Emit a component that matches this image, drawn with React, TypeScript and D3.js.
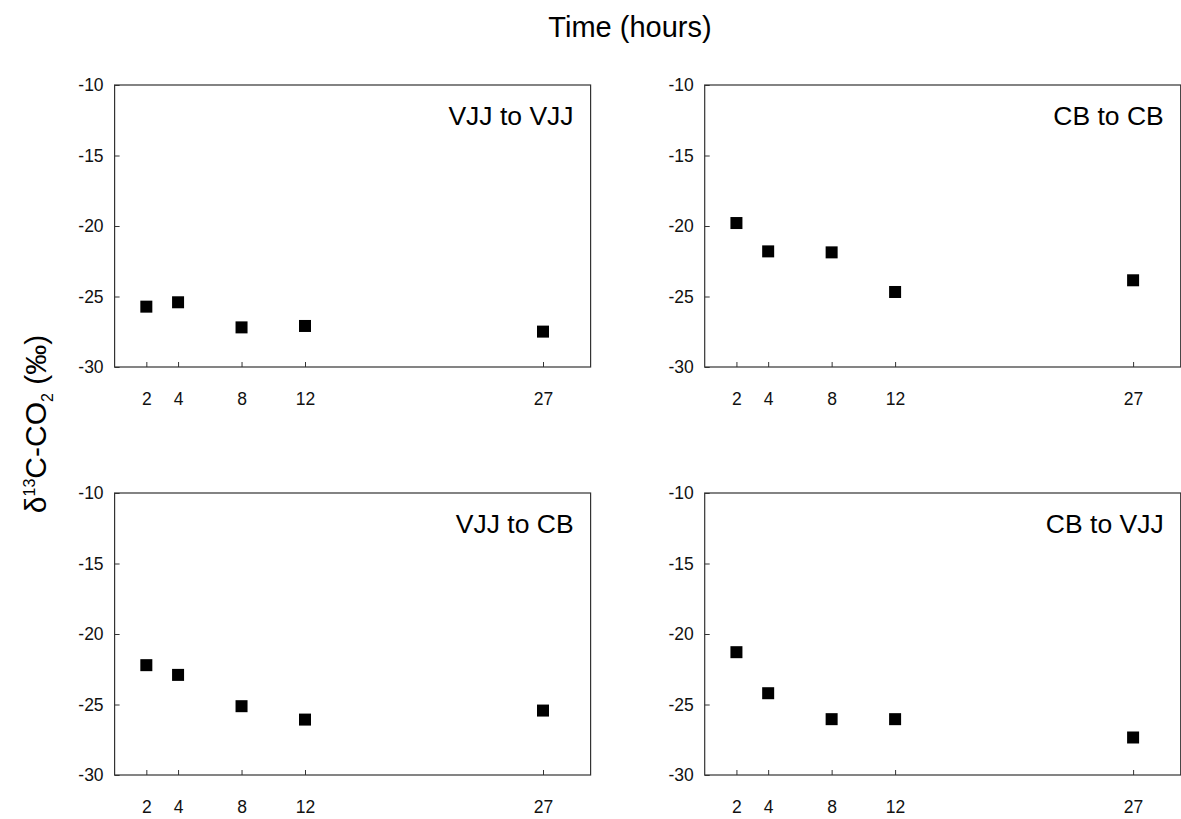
import React, { useRef, useEffect } from 'react';
import * as d3 from 'd3';

// sampling times (hours)
const hours = [2, 4, 8, 12, 27];
const xTicks = [2, 4, 8, 12, 27];
const yTicks = [-10, -15, -20, -25, -30];

// d13C-CO2 values per treatment
const vjjToVjj = [-25.72, -25.41, -27.19, -27.09, -27.49];
const cbToCb = [-19.79, -21.8, -21.87, -24.68, -23.85];
const vjjToCb = [-22.21, -22.9, -25.12, -26.07, -25.43];
const cbToVjj = [-21.29, -24.2, -26.04, -26.04, -27.34];

const panels = [
  { label: 'VJJ to VJJ', values: vjjToVjj, col: 0, row: 0 },
  { label: 'CB to CB', values: cbToCb, col: 1, row: 0 },
  { label: 'VJJ to CB', values: vjjToCb, col: 0, row: 1 },
  { label: 'CB to VJJ', values: cbToVjj, col: 1, row: 1 },
];

const W = 1181;
const H = 819;
const FONT = 'Liberation Sans, Arial, sans-serif';

const App = () => {
  const ref = useRef<SVGSVGElement>(null);

  useEffect(() => {
    const svg = d3.select(ref.current);
    svg.selectAll('*').remove();

    const colX = [114.6, 704.7];
    const rowY = [85, 493];
    const pw = 476;
    const ph = 282;

    panels.forEach(p => {
      const g = svg.append('g')
        .attr('transform', `translate(${colX[p.col]}, ${rowY[p.row]})`);

      const x = d3.scaleLinear().domain([0, 30]).range([0, pw]);
      const y = d3.scaleLinear().domain([-30, -10]).range([ph, 0]);

      // frame
      g.append('rect')
        .attr('width', pw)
        .attr('height', ph)
        .attr('fill', 'none')
        .attr('stroke', '#333')
        .attr('stroke-width', 1.2);

      // y axis, inward ticks (plain hyphen, not unicode minus)
      const ya = g.append('g')
        .call(d3.axisRight(y).tickValues(yTicks).tickSize(5).tickFormat(d => String(d)));
      ya.select('.domain').remove();
      ya.selectAll('line').attr('stroke', '#333');
      ya.selectAll('text')
        .attr('x', -11)
        .attr('text-anchor', 'end')
        .attr('fill', '#111')
        .style('font-family', FONT)
        .style('font-size', '17.5px');

      // x axis, inward ticks
      const xa = g.append('g')
        .attr('transform', `translate(0, ${ph})`)
        .call(d3.axisTop(x).tickValues(xTicks).tickSize(5));
      xa.select('.domain').remove();
      xa.selectAll('line').attr('stroke', '#333');
      xa.selectAll('text')
        .attr('y', 38)
        .attr('dy', 0)
        .attr('fill', '#111')
        .style('font-family', FONT)
        .style('font-size', '17.5px');

      // points
      const s = 12;
      g.selectAll('rect.pt')
        .data(hours.map((h, i) => ({ h, v: p.values[i] })))
        .join('rect')
        .attr('class', 'pt')
        .attr('x', d => x(d.h) - s / 2)
        .attr('y', d => y(d.v) - s / 2)
        .attr('width', s)
        .attr('height', s)
        .attr('fill', '#000');

      // panel label
      g.append('text')
        .attr('x', pw - 17)
        .attr('y', 40)
        .attr('text-anchor', 'end')
        .style('font-family', FONT)
        .style('font-size', '26.5px')
        .text(p.label);
    });

    // top title
    svg.append('text')
      .attr('x', 630)
      .attr('y', 37)
      .attr('text-anchor', 'middle')
      .style('font-family', FONT)
      .style('font-size', '29px')
      .text('Time (hours)');

    // y title
    const yt = svg.append('text')
      .attr('transform', 'translate(46, 424) rotate(-90)')
      .attr('text-anchor', 'middle')
      .style('font-family', FONT)
      .style('font-size', '30px');
    yt.append('tspan').text('δ');
    yt.append('tspan').attr('dy', -11).style('font-size', '16px').text('13');
    yt.append('tspan').attr('dy', 11).text('C-CO');
    yt.append('tspan').attr('dy', 7).style('font-size', '16px').text('2');
    yt.append('tspan').attr('dy', -7).text(' (‰)');
  }, []);

  return (
    <svg ref={ref} width={W} height={H}
      style={{ position: 'absolute', left: 0, top: 0, background: '#fff' }} />
  );
};

export default App;
